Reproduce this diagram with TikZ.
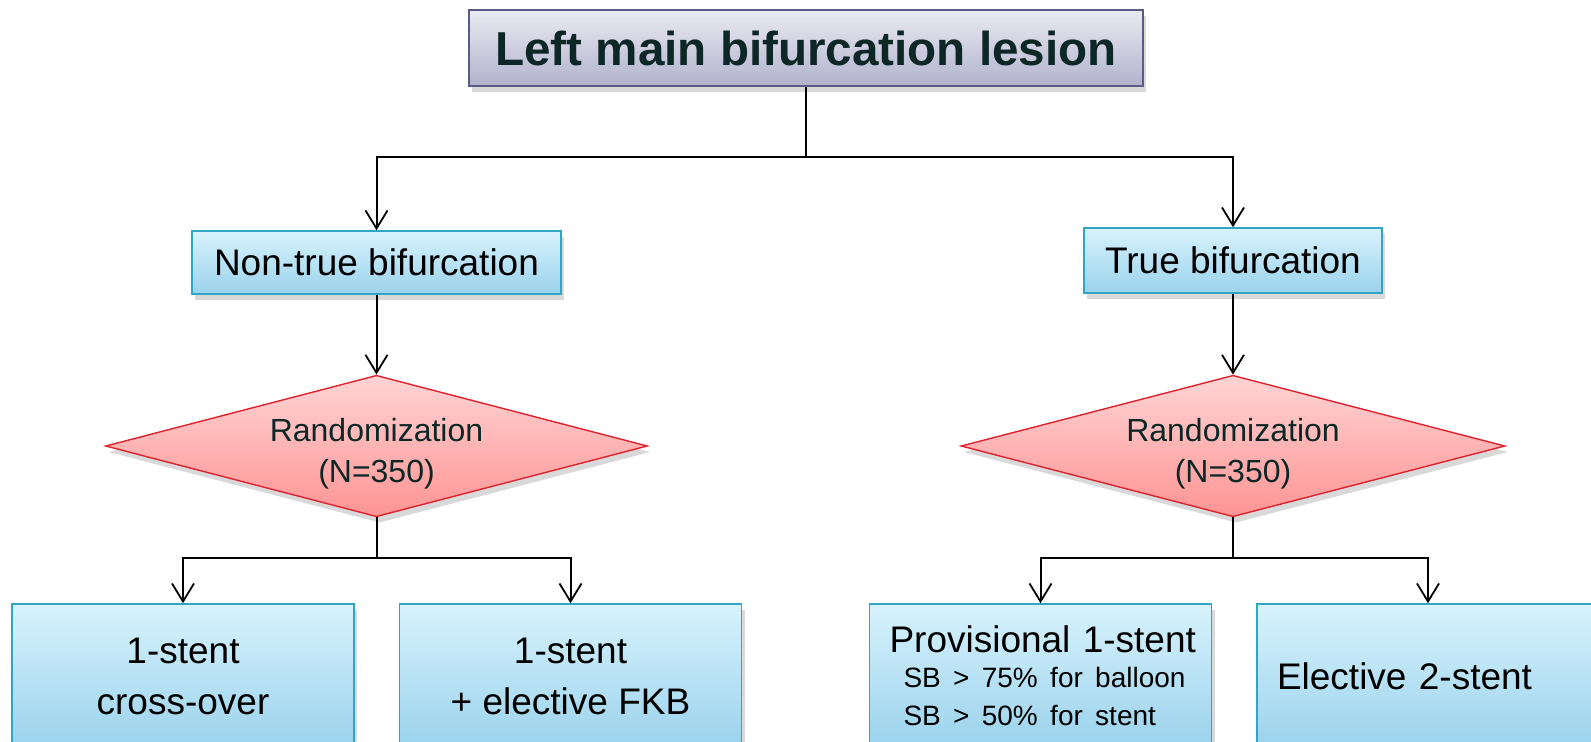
\documentclass[tikz,border=0pt]{standalone}
\usepackage{fontspec}
\setmainfont{Liberation Sans}
\usetikzlibrary{arrows.meta,shapes.geometric,shadows}
\definecolor{ink}{HTML}{0D2626}
\definecolor{slate}{HTML}{5B5B88}
\definecolor{lilactop}{HTML}{EAEAF3}
\definecolor{lilacbot}{HTML}{B2B2CC}
\definecolor{cyanline}{HTML}{31A5C6}
\definecolor{skytop}{HTML}{D8F3FD}
\definecolor{skybot}{HTML}{9AD2EC}
\definecolor{redline}{HTML}{E0222E}
\definecolor{pinktop}{HTML}{FFD4D4}
\definecolor{pinkbot}{HTML}{FF9494}

\begin{document}
\begin{tikzpicture}[x=0.5pt,y=-0.5pt,
  link/.style={line width=1pt, black},
  arr/.style={link, -{Straight Barb[length=9pt,width=11pt,line width=0.9pt]}},
  shade/.style={drop shadow={opacity=.3, shadow xshift=1.5pt, shadow yshift=-3pt}},
  headbox/.style={shade, draw=slate, line width=.8pt, top color=lilactop, bottom color=lilacbot,
    text=ink, font=\fontsize{23.8}{28}\selectfont\bfseries, minimum width=337pt, minimum height=38pt, inner sep=0pt},
  bluebox/.style={shade, draw=cyanline, line width=.8pt, top color=skytop, bottom color=skybot,
    font=\fontsize{18.5}{25.5}\selectfont, inner sep=0pt},
  armbox/.style={bluebox, minimum width=171pt, minimum height=72pt, align=center},
  randbox/.style={shade, diamond, aspect=3.82, draw=redline, line width=.7pt, top color=pinktop, bottom color=pinkbot,
    text=ink, font=\fontsize{16}{20.5}\selectfont, align=center, inner sep=0pt, minimum width=271pt},
]
  \useasboundingbox (0,0) rectangle (1591,741);
  % top: lesion + the two bifurcation classes
  \node[headbox] (lesion) at (806,48) {Left main bifurcation lesion};
  \node[bluebox, minimum width=184.5pt, minimum height=31.5pt] (nontrue) at (376.5,262.5) {Non-true bifurcation};
  \node[bluebox, minimum width=149pt, minimum height=32.5pt] (truebif) at (1233,260.5) {True bifurcation};
  \coordinate (fork) at (806,157);
  \draw[link] (lesion) -- (fork);
  \draw[arr] (fork) -| (nontrue.north);
  \draw[arr] (fork) -| (truebif.north);
  % middle: randomization
  \node[randbox] (randL) at (376.5,446) {\rule{0pt}{19pt}Randomization\\(N=350)};
  \node[randbox, minimum width=272pt] (randR) at (1233,446) {\rule{0pt}{19pt}Randomization\\(N=350)};
  \draw[arr] (nontrue) -- (randL);
  \draw[arr] (truebif) -- (randR);
  % bottom: treatment arms
  \node[armbox] (cross) at (183,676) {1-stent\\cross-over};
  \node[armbox] (fkb) at (570.5,676) {1-stent\\+ elective FKB};
  \node[armbox, align=left, text width=151pt] (prov) at (1040.5,676)
    {\mbox{Provisional 1-stent}\\[-.5pt]
     {\fontsize{14}{18}\selectfont\hspace*{7pt}\mbox{SB > 75\% for balloon}\\[-6.6pt]
      \hspace*{7pt}\mbox{SB > 50\% for stent}}};
  \node[armbox, align=left, text width=151pt] (twostent) at (1428,676) {Elective 2-stent};
  \foreach \r/\a/\b in {randL/cross/fkb, randR/prov/twostent} {
    \coordinate (sp-\r) at (\r |- 0,558);
    \draw[link] (\r) -- (sp-\r);
    \draw[arr] (sp-\r) -| (\a.north);
    \draw[arr] (sp-\r) -| (\b.north);
  }
\end{tikzpicture}
\end{document}
